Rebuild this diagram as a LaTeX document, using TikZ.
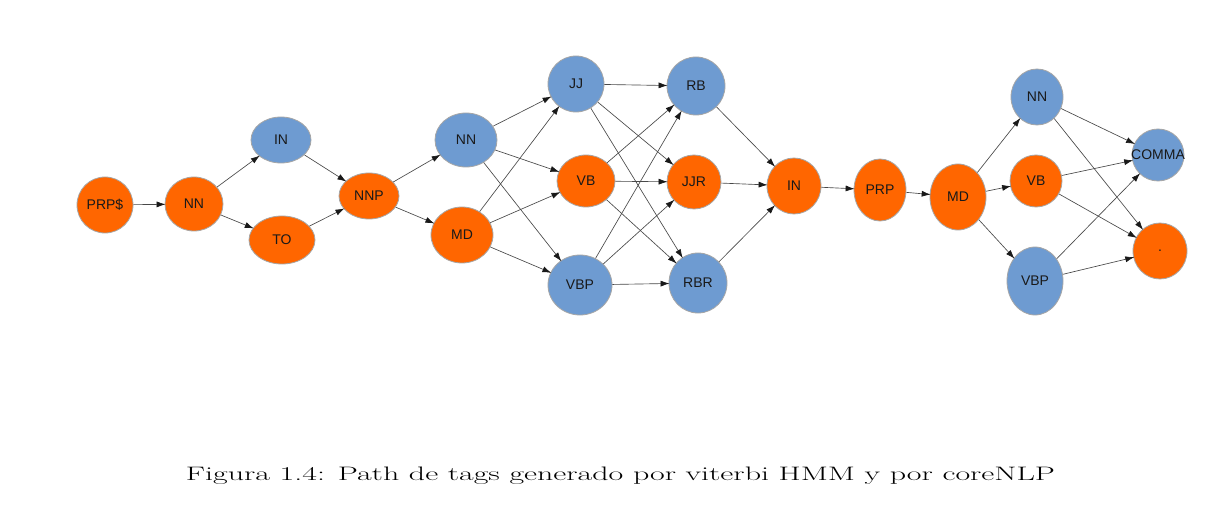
\documentclass[tikz,border=0pt]{standalone}
\usepackage{fontspec}
\usepackage{graphicx}
\newfontfamily\labfont{Liberation Sans}
\usetikzlibrary{shapes.geometric,arrows.meta}
\definecolor{orangeC}{HTML}{FF6600}
\definecolor{blueC}{HTML}{6E9BD1}
\definecolor{edgeC}{HTML}{484848}
\tikzset{
  nd/.style={ellipse, draw=black!35, line width=0.8pt, inner sep=0pt, text=black!90,
    font=\labfont\fontsize{14}{16}\selectfont},
  org/.style={nd, fill=orangeC},
  blu/.style={nd, fill=blueC},
  edge/.style={draw=edgeC, line width=0.65pt, -{Latex[length=9pt,width=6pt,color=black!90]}, shorten >=-1pt},
}
\begin{document}
\begin{tikzpicture}[x=1pt,y=-1pt]
\useasboundingbox (0,0) rectangle (1213,513);
\fill[white] (0,0) rectangle (1213,513);
\node[org, minimum width=56pt, minimum height=56pt] (prps) at (105,205) {PRP\$};
\node[org, minimum width=58pt, minimum height=54pt] (nna) at (194,204) {NN};
\node[blu, minimum width=60pt, minimum height=46pt] (ina) at (281,140) {IN};
\node[org, minimum width=66pt, minimum height=48pt] (to) at (282,240) {TO};
\node[org, minimum width=60pt, minimum height=46pt] (nnp) at (369,196) {NNP};
\node[blu, minimum width=62pt, minimum height=54pt] (nnb) at (466,140) {NN};
\node[org, minimum width=62pt, minimum height=56pt] (mda) at (462,235) {MD};
\node[blu, minimum width=56pt, minimum height=56pt] (jj) at (576,84) {JJ};
\node[org, minimum width=58pt, minimum height=52pt] (vba) at (586,181) {VB};
\node[blu, minimum width=64pt, minimum height=60pt] (vbpa) at (580,285) {VBP};
\node[blu, minimum width=58pt, minimum height=58pt] (rb) at (696,86) {RB};
\node[org, minimum width=54pt, minimum height=54pt] (jjr) at (694,182) {JJR};
\node[blu, minimum width=58pt, minimum height=60pt] (rbr) at (698,283) {RBR};
\node[org, minimum width=54pt, minimum height=56pt] (inb) at (794,186) {IN};
\node[org, minimum width=52pt, minimum height=62pt] (prp) at (880,190) {PRP};
\node[org, minimum width=56pt, minimum height=66pt] (mdb) at (958,197) {MD};
\node[blu, minimum width=52pt, minimum height=56pt] (nnc) at (1037,97) {NN};
\node[org, minimum width=52pt, minimum height=52pt] (vbb) at (1036,181) {VB};
\node[blu, minimum width=56pt, minimum height=68pt] (vbpb) at (1035,281) {VBP};
\node[blu, minimum width=52pt, minimum height=52pt] (comma) at (1158,155) {\makebox[0pt]{COMMA}};
\node[org, minimum width=54pt, minimum height=56pt] (dot) at (1160,251) {.};
\foreach \a/\b in {prps/nna, nna/ina, nna/to, ina/nnp, to/nnp, nnp/nnb, nnp/mda,
  nnb/jj, nnb/vba, nnb/vbpa, mda/jj, mda/vba, mda/vbpa,
  jj/rb, jj/jjr, jj/rbr, vba/rb, vba/jjr, vba/rbr, vbpa/rb, vbpa/jjr, vbpa/rbr,
  rb/inb, jjr/inb, rbr/inb, inb/prp, prp/mdb, mdb/nnc, mdb/vbb, mdb/vbpb,
  nnc/comma, nnc/dot, vbb/comma, vbb/dot, vbpb/comma, vbpb/dot}
  \draw[edge] (\a) -- (\b);
\node[inner sep=0pt, font=\fontsize{19.5}{23}\selectfont] (cap) at (620.5,476)
  {\resizebox{869pt}{\height}{Figura 1.4: Path de tags generado por viterbi HMM y por coreNLP}};
\end{tikzpicture}
\end{document}
